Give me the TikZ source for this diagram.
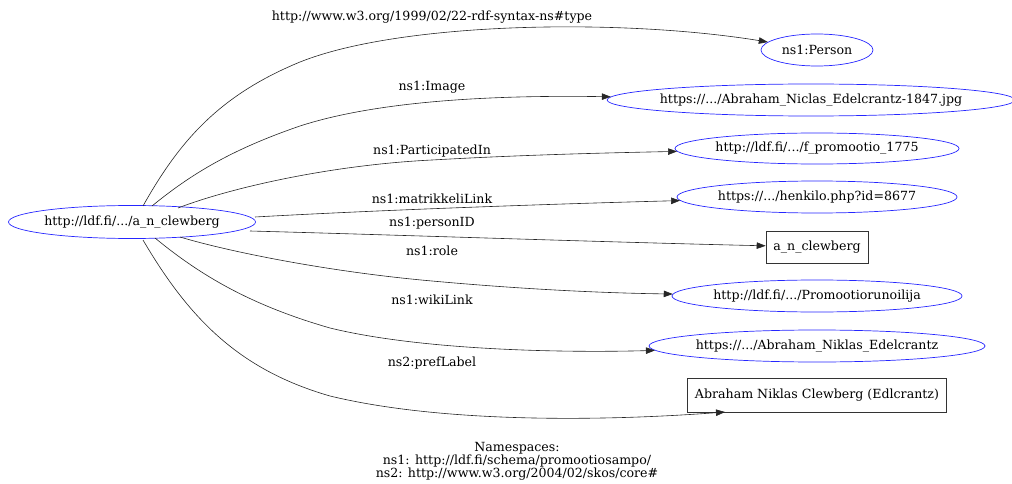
\documentclass[tikz,border=0pt]{standalone}
\usepackage{fontspec}
\setmainfont{DejaVu Serif}
\usetikzlibrary{shapes.geometric,arrows.meta}
\tikzset{
  fnt/.style={font=\fontsize{12.6}{13}\selectfont},
  uri/.style={ellipse,draw=blue!85!white,line width=0.7pt,inner ysep=0pt,inner xsep=-7pt,fnt},
  lit/.style={rectangle,draw=black!80,line width=0.6pt,inner sep=0pt,fnt},
  edge/.style={draw=black!85,line width=0.6pt,-{Triangle[length=9pt,width=6.5pt]}},
  lbl/.style={fnt,inner sep=0pt}
}
\begin{document}
\begin{tikzpicture}[x=1pt,y=-1pt]
\useasboundingbox (0,0) rectangle (1012,484);
\node[uri,minimum width=247pt,minimum height=33pt] (src) at (132,222) {http://ldf.fi/.../a\_n\_clewberg};
\node[uri,minimum width=112pt,minimum height=32pt] (person) at (817,50) {ns1:Person};
\node[uri,minimum width=402pt,minimum height=32pt] (img) at (811,100) {https://.../Abraham\_Niclas\_Edelcrantz-1847.jpg};
\node[uri,minimum width=284pt,minimum height=31pt] (prom) at (817,148.5) {http://ldf.fi/.../f\_promootio\_1775};
\node[uri,minimum width=280pt,minimum height=32pt] (henk) at (817,197) {https://.../henkilo.php?id=8677};
\node[lit,minimum width=102pt,minimum height=32pt] (pid) at (817,247) {a\_n\_clewberg};
\node[uri,minimum width=290pt,minimum height=32pt] (role) at (817,296) {http://ldf.fi/.../Promootiorunoilija};
\node[uri,minimum width=336pt,minimum height=32pt] (wiki) at (817,346) {https://.../Abraham\_Niklas\_Edelcrantz};
\node[lit,minimum width=259pt,minimum height=34pt] (pref) at (817,395) {Abraham Niklas Clewberg (Edlcrantz)};
\coordinate (prefend) at (725,412);

\draw[edge] (143,206) .. controls (180,140) and (220,95) .. (300,62) .. controls (400,22) and (620,18) .. (person);
\draw[edge] (152,206) .. controls (190,175) and (230,150) .. (300,126) .. controls (380,100) and (500,95) .. (img);
\draw[edge] (178,208) .. controls (230,188) and (330,165) .. (432,160) .. controls (520,155) and (600,153) .. (prom);
\draw[edge] (255,217) .. controls (380,210) and (550,204) .. (henk);
\draw[edge] (250,231) .. controls (400,235) and (600,242) .. (pid);
\draw[edge] (180,237) .. controls (230,252) and (330,272) .. (432,281) .. controls (520,289) and (600,293) .. (role);
\draw[edge] (155,238) .. controls (200,275) and (250,305) .. (330,328) .. controls (420,350) and (560,353) .. (wiki);
\draw[edge] (143,240) .. controls (190,320) and (240,370) .. (330,396) .. controls (450,425) and (620,420) .. (prefend);

\node[lbl] (l1) at (432,17) {http://www.w3.org/1999/02/22-rdf-syntax-ns\#type};
\node[lbl] (l2) at (432,87) {ns1:Image};
\node[lbl] (l3) at (432,151) {ns1:ParticipatedIn};
\node[lbl] (l4) at (432,199) {ns1:matrikkeliLink};
\node[lbl] (l5) at (432,223) {ns1:personID};
\node[lbl] (l6) at (432,251) {ns1:role};
\node[lbl] (l7) at (432,300) {ns1:wikiLink};
\node[lbl] (l8) at (432,363) {ns2:prefLabel};
\node[lbl,align=center] (ns) at (517,461) {Namespaces:\\ns1: http://ldf.fi/schema/promootiosampo/\\ns2: http://www.w3.org/2004/02/skos/core\#};
\end{tikzpicture}
\end{document}
